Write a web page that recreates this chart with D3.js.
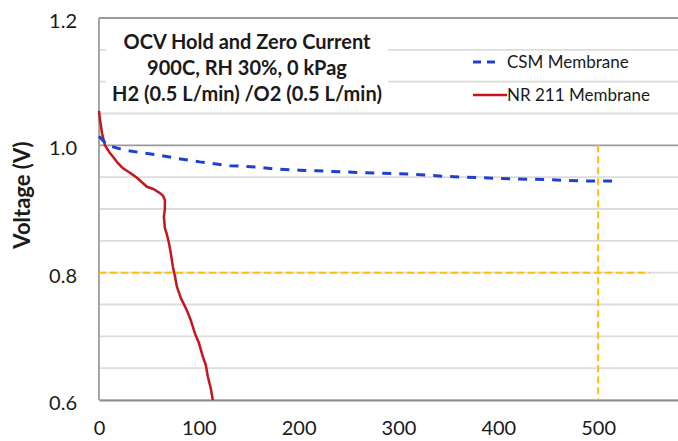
<!DOCTYPE html>
<html>
<head>
<meta charset="utf-8">
<script src="https://cdn.jsdelivr.net/npm/d3@7"></script>
<style>
  body { margin: 0; background: #fff; }
  text { font-family: Lato, 'Open Sans', sans-serif; fill: #1a1a1a; }
</style>
</head>
<body>
<div id="plot"></div>
<script>
// Values
const csmTime = [0, 5, 9, 24, 40, 58, 80, 101, 131, 158, 174, 201, 218, 250, 285, 309, 350, 402, 450, 485, 517];
const csmVolt = [1.014, 1.006, 1.0, 0.993, 0.989, 0.985, 0.979, 0.974, 0.968, 0.966, 0.963, 0.961, 0.960, 0.958, 0.956, 0.955, 0.951, 0.948, 0.946, 0.944, 0.944];

const nrTime = [0, 1, 2, 3, 6, 10, 14, 19, 24, 31, 38, 43, 48, 55, 61, 64, 66, 66, 65, 66, 68, 70, 72, 74, 76, 78, 82, 88, 92, 96, 100, 104, 107, 109, 112, 114];
const nrVolt = [1.054, 1.04, 1.03, 1.019, 1.0, 0.99, 0.982, 0.972, 0.964, 0.957, 0.949, 0.942, 0.935, 0.931, 0.925, 0.921, 0.914, 0.90, 0.888, 0.87, 0.86, 0.847, 0.83, 0.809, 0.795, 0.778, 0.76, 0.741, 0.725, 0.705, 0.69, 0.668, 0.655, 0.637, 0.618, 0.6];

const xTicks = [0, 100, 200, 300, 400, 500];
const yTicks = [0.6, 0.8, 1.0, 1.2];
const limitVolt = 0.8;     // horizontal yellow marker
const limitTimeEnd = 552;
const markTime = 500;      // vertical yellow marker
const markVoltTop = 1.0;

const titleLines = ['OCV Hold and Zero Current', '900C, RH 30%, 0 kPag', 'H2 (0.5 L/min) /O2 (0.5 L/min)'];
const seriesNames = ['CSM Membrane', 'NR 211 Membrane'];

function drawChart() {
  const W = 678, H = 441;
  const margin = { top: 18, right: 0, bottom: 41, left: 99 };

  const svg = d3.select('#plot').append('svg').attr('width', W).attr('height', H);

  const x = d3.scaleLinear().domain([0, 580]).range([margin.left, W - margin.right]);
  const y = d3.scaleLinear().domain([0.6, 1.2]).range([H - margin.bottom, margin.top]);

  // minor gridlines every 0.05
  svg.append('g').selectAll('line')
    .data(y.ticks(12))
    .enter().append('line')
    .attr('x1', x(0)).attr('x2', W)
    .attr('y1', (d) => y(d)).attr('y2', (d) => y(d))
    .attr('stroke', (d) => (Math.abs(d - 1.0) < 1e-6 || Math.abs(d - 1.2) < 1e-6) ? '#9a9a9a' : '#dcdcdc')
    .attr('stroke-width', (d) => (Math.abs(d - 1.2) < 1e-6) ? 2.2 : 1.8);

  // left axis line
  svg.append('line').attr('x1', x(0)).attr('x2', x(0)).attr('y1', y(1.2)).attr('y2', y(0.6))
    .attr('stroke', '#a6a6a6').attr('stroke-width', 2);

  // bottom axis
  const xAxis = d3.axisBottom(x).tickValues(xTicks).tickSize(0).tickPadding(21);
  const gx = svg.append('g').attr('transform', `translate(0,${y(0.6)})`).call(xAxis);
  gx.select('.domain').attr('stroke', '#8c8c8c').attr('stroke-width', 2.2);
  gx.selectAll('text').style('font-size', '20px').style('font-family', 'Lato, sans-serif').attr('fill', '#1a1a1a');

  const yAxis = d3.axisLeft(y).tickValues(yTicks).tickSize(0).tickPadding(22).tickFormat(d3.format('.1f'));
  const gy = svg.append('g').attr('transform', `translate(${x(0)},3)`).call(yAxis);
  gy.select('.domain').remove();
  gy.selectAll('text').style('font-size', '20px').style('font-family', 'Lato, sans-serif').attr('fill', '#1a1a1a');

  // yellow markers
  svg.append('line')
    .attr('x1', x(0)).attr('x2', x(limitTimeEnd))
    .attr('y1', y(limitVolt)).attr('y2', y(limitVolt))
    .attr('stroke', '#ffc000').attr('stroke-width', 2).attr('stroke-dasharray', '7,4');
  svg.append('line')
    .attr('x1', x(markTime)).attr('x2', x(markTime))
    .attr('y1', y(markVoltTop)).attr('y2', y(0.6))
    .attr('stroke', '#ffc000').attr('stroke-width', 2).attr('stroke-dasharray', '7,4');

  // series
  const csm = csmTime.map((t, i) => ({ t: t, v: csmVolt[i] }));
  const nr = nrTime.map((t, i) => ({ t: t, v: nrVolt[i] }));
  const line = d3.line().x((d) => x(d.t)).y((d) => y(d.v));

  svg.append('path').datum(nr)
    .attr('fill', 'none').attr('stroke', '#c4161c').attr('stroke-width', 2.5)
    .attr('stroke-linejoin', 'round').attr('d', line);

  svg.append('path').datum(csm)
    .attr('fill', 'none').attr('stroke', '#1f3fd1').attr('stroke-width', 3)
    .attr('stroke-dasharray', '9,8').attr('d', line);

  // title box
  svg.append('rect').attr('x', 106).attr('y', 24).attr('width', 282).attr('height', 82).attr('fill', '#fff');
  svg.append('g').selectAll('text')
    .data(titleLines)
    .enter().append('text')
    .attr('x', 247)
    .attr('y', (d, i) => 49 + i * 26)
    .attr('text-anchor', 'middle')
    .style('font-size', '20px')
    .style('font-weight', 'bold')
    .text((d) => d);

  // legend
  const legend = svg.append('g');
  legend.append('line').attr('x1', 473).attr('x2', 500).attr('y1', 62).attr('y2', 62)
    .attr('stroke', '#1f3fd1').attr('stroke-width', 3).attr('stroke-dasharray', '8,6');
  legend.append('text').attr('x', 507).attr('y', 62).attr('dy', '0.35em').style('font-size', '17px').text(seriesNames[0]);
  legend.append('line').attr('x1', 473).attr('x2', 507).attr('y1', 95).attr('y2', 95)
    .attr('stroke', '#c4161c').attr('stroke-width', 2.5);
  legend.append('text').attr('x', 507).attr('y', 95).attr('dy', '0.35em').style('font-size', '17px').text(seriesNames[1]);

  // y axis title
  svg.append('text')
    .attr('transform', 'translate(22,195) rotate(-90)')
    .attr('dy', '0.35em')
    .attr('text-anchor', 'middle')
    .style('font-size', '22px')
    .style('font-weight', 'bold')
    .text('Voltage (V)');
}

drawChart();
</script>
</body>
</html>
